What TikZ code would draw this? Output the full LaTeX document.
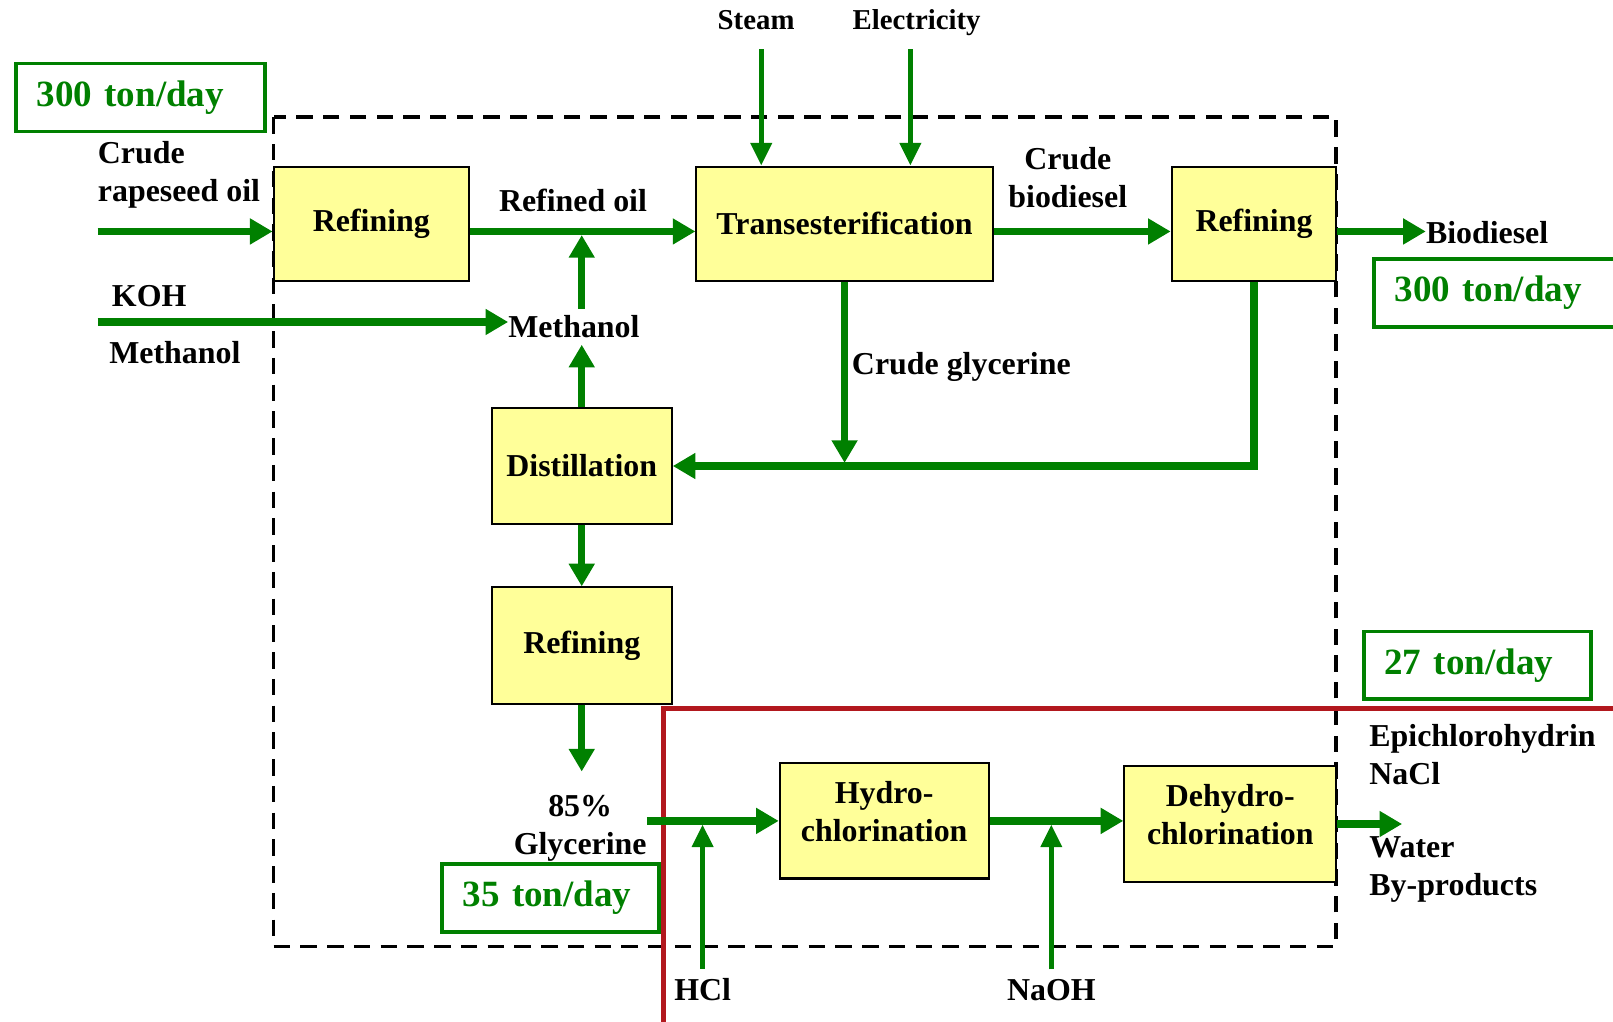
\documentclass[tikz,border=0pt]{standalone}
\usepackage{fontspec}
\setmainfont{Liberation Serif}
\usepackage{tikz}
\usetikzlibrary{arrows.meta,positioning}
\definecolor{pfgreen}{RGB}{0,128,0}
\definecolor{pfyellow}{RGB}{255,255,153}
\definecolor{pfred}{RGB}{178,24,30}
\tikzstyle{flow} = [line width=7pt,-{Triangle[length=22pt,width=24pt]},color=pfgreen]
\tikzstyle{feed} = [line width=5pt,-{Triangle[length=22pt,width=20pt]},color=pfgreen]
\tikzstyle{unit} = [rectangle, draw=black, fill=pfyellow, line width=2pt, minimum height=111pt, text centered, align=center]
\tikzstyle{rate} = [rectangle, draw=pfgreen, line width=3.5pt, text=pfgreen, inner xsep=20pt, minimum height=66pt, align=left, anchor=north west, font=\fontsize{36}{40}\selectfont\bfseries]
\tikzstyle{lbl} = [inner sep=0pt]
\tikzstyle{small} = [font=\fontsize{28}{34}\selectfont\bfseries]

\begin{document}
\begin{tikzpicture}[x=1pt, y=-1pt, font=\fontsize{31}{37}\selectfont\bfseries]
\useasboundingbox (0,0) rectangle (1568,993);
\clip (0,0) rectangle (1568,993);
% plant boundary and epichlorohydrin section
\draw[line width=3.5pt, dash pattern=on 16pt off 10pt] (266,114) rectangle (1299,920);
\draw[pfred, line width=5pt] (645,689) rectangle (1640,1040);

% process units
\node[unit, minimum width=190pt] (ref1) at (361,217.5) {Refining};
\node[unit, minimum width=288pt] (trans) at (821,217.5) {Transesterification};
\node[unit, minimum width=160pt] (ref2) at (1219,217.5) {Refining};
\node[unit, minimum width=175pt, minimum height=112pt] (dist) at (565.5,453) {Distillation};
\node[unit, minimum width=175pt, minimum height=113pt] (ref3) at (565.5,627.5) {Refining};
\node[unit, minimum width=203pt, minimum height=112pt, text depth=18pt] (hydro) at (859.5,798) {Hydro-\\chlorination};
\node[unit, minimum width=206pt, minimum height=112pt, text depth=18pt] (dehyd) at (1196,801) {Dehydro-\\chlorination};

% capacities
\node[rate, text width=202pt] (r300a) at (14,60) {300 ton/day};
\node[rate, text width=240pt] (r300b) at (1334,250) {300 ton/day};
\node[rate, text width=181pt] (r27) at (1324,612) {27 ton/day};
\node[rate, text width=171pt] (r35) at (428,838) {35 ton/day};

% oil line
\node[lbl, anchor=west, align=left] (oil) at (95,170) {Crude\\rapeseed oil};
\coordinate (oilin) at (95,225);
\draw[flow] (oilin) -- (oilin -| ref1.west);
\draw[flow] (ref1.east |- oilin) -- (trans.west |- oilin);
\node[lbl] (refoil) at (557,195) {Refined oil};
\draw[flow] (trans.east |- oilin) -- (ref2.west |- oilin);
\node[lbl, align=center] (cbd) at (1038,173) {Crude\\biodiesel};
\node[lbl, anchor=west] (biod) at (1386,226) {Biodiesel};
\draw[flow] (ref2.east |- oilin) -- (biod.west |- oilin);

% utilities
\node[lbl, small] (steam) at (735,20) {Steam};
\node[lbl, small] (elec) at (891,22) {Electricity};
\coordinate (steamin) at (740,48);
\coordinate (elecin) at (885,48);
\draw[feed] (steamin) -- (steamin |- trans.north);
\draw[feed] (elecin) -- (elecin |- trans.north);

% methanol and catalyst
\node[lbl] (koh) at (145,288) {KOH};
\node[lbl] (meoh0) at (170,343) {Methanol};
\coordinate (mein) at (95,313);
\node[lbl, anchor=west] (meoh) at (494,317) {Methanol};
\draw[flow] (mein) -- (meoh.west |- mein);
\draw[flow, shorten <=6pt, shorten >=3.5pt] (dist.north |- meoh.north) -- (dist.north |- oilin);
\draw[flow, shorten >=7pt] (dist.north) -- (dist.north |- meoh.south);

% glycerine recovery
\draw[flow, shorten >=3pt] (trans.south) -- (trans.south |- dist.east);
\node[lbl, anchor=west] (cgly) at (828,357) {Crude glycerine};
\draw[flow] (ref2.south) |- (dist.east);
\draw[flow] (dist.south) -- (ref3.north);
\node[lbl, align=center] (glyc) at (564,805) {85\%\\Glycerine};
\draw[flow] (ref3.south) -- (ref3.south |- 0,750);

% epichlorohydrin
\draw[flow] (glyc.east |- hydro.west) -- (hydro.west);
\node[lbl] (hcl) at (683,962) {HCl};
\draw[feed, shorten <=9pt, shorten >=3.5pt] (hcl.north) -- (hcl.north |- hydro.west);
\draw[flow] (hydro.east) -- (hydro.east -| dehyd.west);
\node[lbl] (naoh) at (1022,962) {NaOH};
\draw[feed, shorten <=9pt, shorten >=3.5pt] (naoh.north) -- (naoh.north |- hydro.east);
\coordinate (prodout) at (1363,801);
\draw[flow] (dehyd.east) -- (prodout);
\node[lbl, anchor=west, align=left] (epi) at (1331,733.5) {Epichlorohydrin\\NaCl};
\node[lbl, anchor=west, align=left] (water) at (1331,845.5) {Water\\By-products};
\end{tikzpicture}
\end{document}
